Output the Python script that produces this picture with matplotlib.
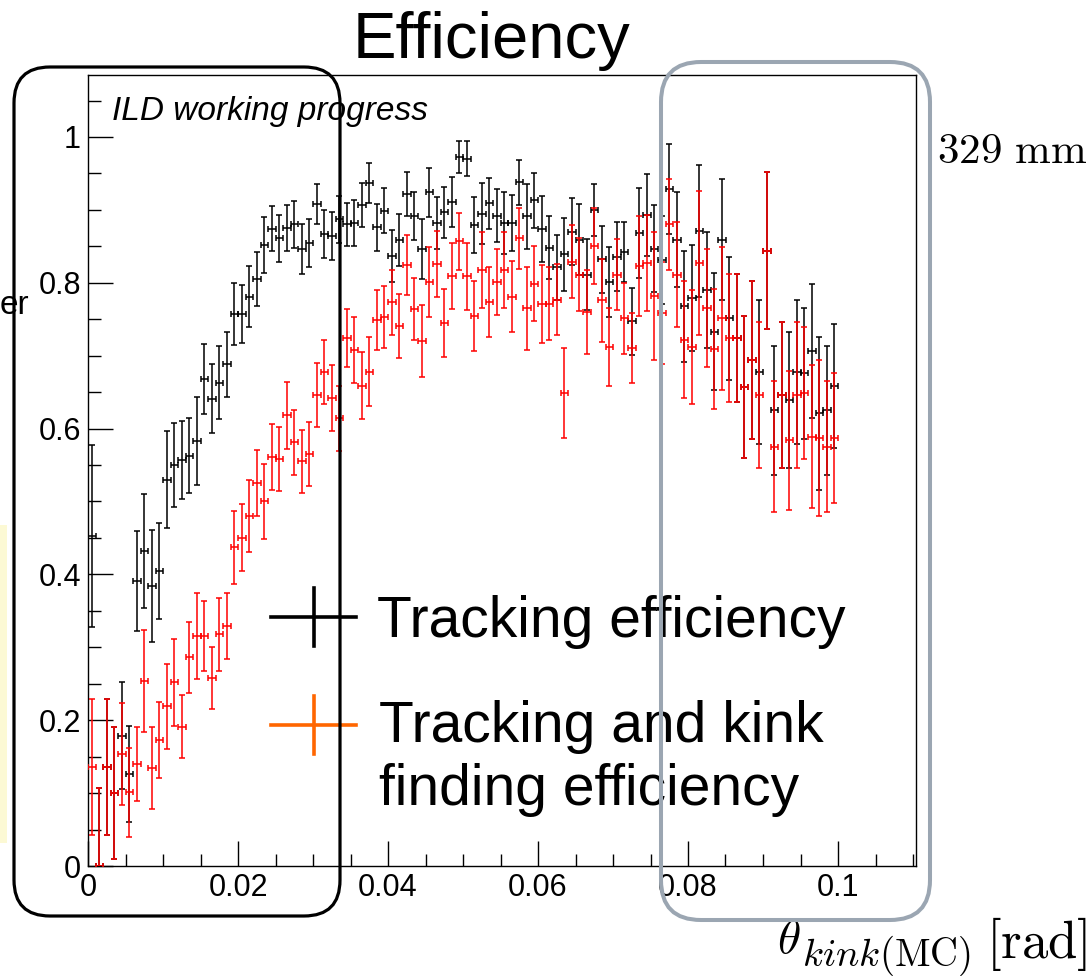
import numpy as np
import matplotlib
matplotlib.use("Agg")
import matplotlib.pyplot as plt
from matplotlib.patches import FancyBboxPatch, Rectangle
from matplotlib.lines import Line2D
from matplotlib.transforms import Affine2D
from matplotlib.ticker import MultipleLocator, FuncFormatter

plt.rcParams['font.family'] = ['Liberation Sans', 'DejaVu Sans']
plt.rcParams['mathtext.fontset'] = 'cm'

# 100 bins of theta_kink between 0 and 0.1 rad
bin_width = 0.001
n_bins = 100

tracking_eff = [
    0.453, 0.000, 0.136, 0.100, 0.179, 0.126, 0.391, 0.432, 0.384, 0.405,
    0.530, 0.550, 0.557, 0.563, 0.583, 0.668, 0.641, 0.663, 0.688, 0.757,
    0.757, 0.781, 0.805, 0.852, 0.874, 0.861, 0.875, 0.880, 0.846, 0.854,
    0.908, 0.867, 0.864, 0.887, 0.880, 0.882, 0.907, 0.937, 0.876, 0.899,
    0.837, 0.859, 0.922, 0.891, 0.846, 0.924, 0.882, 0.897, 0.911, 0.973,
    0.970, 0.879, 0.895, 0.909, 0.892, 0.882, 0.882, 0.938, 0.891, 0.913,
    0.874, 0.848, 0.821, 0.839, 0.870, 0.859, 0.811, 0.900, 0.832, 0.801,
    0.836, 0.842, 0.747, 0.868, 0.893, 0.847, 0.831, 0.929, 0.859, 0.768,
    0.779, 0.871, 0.790, 0.733, 0.859, 0.751, 0.724, 0.657, 0.694, 0.678,
    0.844, 0.625, 0.646, 0.639, 0.678, 0.676, 0.707, 0.621, 0.625, 0.659,
]
tracking_err = [
    0.125, 0.107, 0.093, 0.091, 0.073, 0.066, 0.068, 0.078, 0.077, 0.066,
    0.067, 0.057, 0.053, 0.052, 0.061, 0.048, 0.047, 0.050, 0.044, 0.043,
    0.040, 0.042, 0.037, 0.038, 0.031, 0.032, 0.032, 0.032, 0.034, 0.033,
    0.028, 0.033, 0.033, 0.032, 0.030, 0.032, 0.030, 0.027, 0.032, 0.031,
    0.036, 0.036, 0.030, 0.033, 0.041, 0.034, 0.035, 0.035, 0.034, 0.022,
    0.024, 0.038, 0.042, 0.035, 0.036, 0.043, 0.039, 0.031, 0.044, 0.038,
    0.045, 0.043, 0.044, 0.050, 0.046, 0.049, 0.049, 0.036, 0.046, 0.048,
    0.047, 0.041, 0.046, 0.062, 0.056, 0.060, 0.060, 0.062, 0.065, 0.076,
    0.073, 0.091, 0.079, 0.080, 0.083, 0.085, 0.088, 0.098, 0.108, 0.099,
    0.108, 0.088, 0.100, 0.093, 0.099, 0.090, 0.092, 0.105, 0.088, 0.085,
]
kink_eff = [
    0.136, 0.000, 0.136, 0.100, 0.153, 0.101, 0.140, 0.254, 0.134, 0.173,
    0.219, 0.252, 0.191, 0.286, 0.316, 0.316, 0.258, 0.318, 0.329, 0.437,
    0.450, 0.480, 0.525, 0.500, 0.561, 0.558, 0.618, 0.581, 0.555, 0.565,
    0.646, 0.678, 0.642, 0.614, 0.724, 0.708, 0.659, 0.678, 0.749, 0.753,
    0.773, 0.741, 0.824, 0.764, 0.720, 0.801, 0.826, 0.745, 0.809, 0.857,
    0.809, 0.755, 0.818, 0.774, 0.801, 0.818, 0.781, 0.861, 0.765, 0.799,
    0.771, 0.771, 0.777, 0.649, 0.829, 0.811, 0.760, 0.850, 0.776, 0.712,
    0.811, 0.751, 0.710, 0.823, 0.827, 0.782, 0.758, 0.880, 0.811, 0.722,
    0.712, 0.827, 0.765, 0.709, 0.751, 0.724, 0.724, 0.657, 0.694, 0.646,
    0.844, 0.575, 0.646, 0.584, 0.646, 0.649, 0.589, 0.587, 0.575, 0.587,
]
kink_err = [
    0.093, 0.107, 0.093, 0.091, 0.070, 0.061, 0.051, 0.070, 0.056, 0.052,
    0.058, 0.060, 0.043, 0.049, 0.059, 0.048, 0.043, 0.050, 0.045, 0.050,
    0.046, 0.049, 0.045, 0.051, 0.045, 0.044, 0.046, 0.044, 0.043, 0.044,
    0.044, 0.044, 0.045, 0.045, 0.040, 0.045, 0.046, 0.047, 0.041, 0.042,
    0.045, 0.044, 0.041, 0.043, 0.049, 0.048, 0.045, 0.047, 0.045, 0.039,
    0.046, 0.048, 0.052, 0.048, 0.045, 0.052, 0.049, 0.042, 0.057, 0.052,
    0.054, 0.050, 0.049, 0.062, 0.050, 0.050, 0.058, 0.052, 0.057, 0.053,
    0.049, 0.049, 0.048, 0.068, 0.066, 0.088, 0.070, 0.063, 0.072, 0.080,
    0.078, 0.099, 0.081, 0.082, 0.098, 0.088, 0.088, 0.098, 0.108, 0.100,
    0.108, 0.090, 0.100, 0.095, 0.100, 0.091, 0.098, 0.107, 0.090, 0.089,
]

x_ticks = [0, 0.02, 0.04, 0.06, 0.08, 0.1]
y_ticks = [0, 0.2, 0.4, 0.6, 0.8, 1]
legend_labels = ["Tracking efficiency", "Tracking and kink\nfinding efficiency"]

W, H = 1088, 976
fig = plt.figure(figsize=(W / 100, H / 100), dpi=100)
fig.patch.set_facecolor('white')


def px_tr():
    # pixel coordinates with the origin at the top-left corner of the figure
    return Affine2D().scale(1, -1).translate(0, H).scale(1 / W, 1 / H) + fig.transFigure


ax_l, ax_r, ax_t, ax_b = 88, 916, 75, 866
ax = fig.add_axes([ax_l / W, 1 - ax_b / H, (ax_r - ax_l) / W, (ax_b - ax_t) / H])

centers = (np.arange(n_bins) + 0.5) * bin_width
ax.errorbar(centers, tracking_eff, xerr=bin_width / 2, yerr=tracking_err, fmt='none',
            ecolor='black', elinewidth=1.1, capsize=2.2, capthick=1.1, zorder=3)
ax.errorbar(centers, kink_eff, xerr=bin_width / 2, yerr=kink_err, fmt='none',
            ecolor='#ff0000', elinewidth=1.1, capsize=2.2, capthick=1.1, zorder=4)

ax.set_xlim(0, 0.1104)
ax.set_ylim(0, 1.085)
ax.set_xticks(x_ticks)
ax.set_yticks(y_ticks)
ax.xaxis.set_minor_locator(MultipleLocator(0.005))
ax.yaxis.set_minor_locator(MultipleLocator(0.05))
fmt = FuncFormatter(lambda v, p: f"{v:g}")
ax.xaxis.set_major_formatter(fmt)
ax.yaxis.set_major_formatter(fmt)
ax.tick_params(which='both', direction='in', top=False, right=False, width=1.0,
               labelsize=22)
ax.tick_params(which='major', length=18, pad=5)
ax.tick_params(which='minor', length=9)
for s in ax.spines.values():
    s.set_linewidth(1.0)

T = px_tr()

# title and captions
fig.text(491 / W, 1 - 58 / H, "Efficiency", fontsize=47, ha='center', va='baseline')
fig.text(112 / W, 1 - 120 / H, "ILD working progress", fontsize=24, style='italic',
         ha='left', va='baseline')
fig.text(937 / W, 1 - 163 / H, r'$\mathrm{329\ mm}$', fontsize=31, ha='left', va='baseline')
fig.text(0, 1 - 314 / H, "er", fontsize=24, ha='left', va='baseline')

# x-axis title assembled from the right edge: unit, subscript, symbol
renderer = fig.canvas.get_renderer()
t_unit = fig.text(1087 / W, 1 - 958 / H, r'$\mathrm{[rad]}$', fontsize=38,
                  ha='right', va='baseline')
x_left = t_unit.get_window_extent(renderer).x0
t_sub = fig.text((x_left - 14) / W, 1 - 966 / H, r'$kink(\mathrm{MC})$', fontsize=28,
                 ha='right', va='baseline')
x_left = t_sub.get_window_extent(renderer).x0
fig.text((x_left - 2) / W, 1 - 953 / H, r'$\theta$', fontsize=34, ha='right', va='baseline')

# pale yellow strip on the left edge
fig.add_artist(Rectangle((0, 525), 7, 318, transform=T, facecolor='#fcf9d4',
                         edgecolor='none', zorder=0.5))

# legend
legend_colors = ['black', '#ff6600']
marker_y = [617, 725]
for c, yv in zip(legend_colors, marker_y):
    fig.add_artist(Line2D([271, 356], [yv, yv], color=c, lw=2.6, transform=T, zorder=5))
    fig.add_artist(Line2D([314, 314], [yv - 29, yv + 29], color=c, lw=2.6, transform=T,
                          zorder=5))
fig.text(377 / W, 1 - 637 / H, legend_labels[0], fontsize=41, ha='left', va='baseline')
line1, line2 = legend_labels[1].split("\n")
fig.text(379 / W, 1 - 742 / H, line1, fontsize=41, ha='left', va='baseline')
fig.text(379 / W, 1 - 805 / H, line2, fontsize=41, ha='left', va='baseline')

# highlight boxes
fig.add_artist(FancyBboxPatch((14, 67), 326, 849,
                              boxstyle="round,pad=0,rounding_size=36",
                              transform=T, facecolor='none', edgecolor='black',
                              lw=2.3, zorder=10))
fig.add_artist(FancyBboxPatch((661, 62), 269, 858,
                              boxstyle="round,pad=0,rounding_size=40",
                              transform=T, facecolor='none', edgecolor='#9ba6b2',
                              lw=2.9, zorder=10))

fig.savefig("out.png", dpi=100)
